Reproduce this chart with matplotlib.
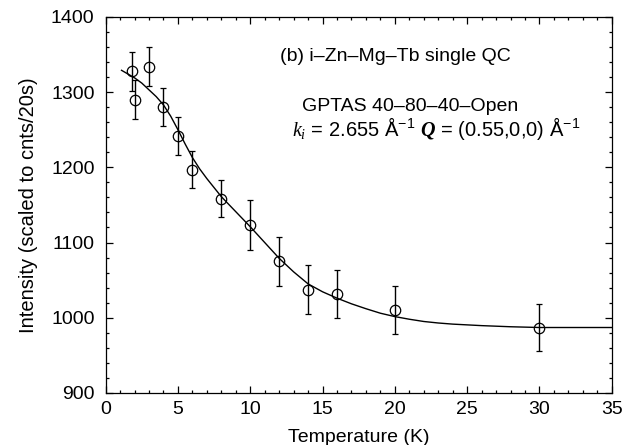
import matplotlib
matplotlib.use("Agg")
import matplotlib.pyplot as plt
from matplotlib.ticker import MultipleLocator

plt.rcParams['font.family'] = ['Liberation Sans', 'DejaVu Sans']
plt.rcParams['mathtext.fontset'] = 'custom'
plt.rcParams['mathtext.rm'] = 'Liberation Sans'
plt.rcParams['mathtext.it'] = 'Liberation Serif:italic'
plt.rcParams['mathtext.bf'] = 'Liberation Serif:bold:italic'
plt.rcParams['mathtext.default'] = 'regular'

# measured data
temperature = [1.8, 2.05, 3.0, 4.0, 5.0, 6.0, 8.0, 10.0, 12.0, 14.0, 16.0, 20.0, 30.0]
intensity = [1328, 1290, 1334, 1280, 1242, 1197, 1158, 1123, 1075, 1037, 1032, 1010, 987]
error = [26, 26, 26, 25, 25, 24.5, 24.5, 33, 33, 32.5, 32, 32, 31]

# fitted curve
fit_temperature = [1.1, 2.0, 2.5, 3.0, 3.5, 4.0, 4.5, 5.0, 5.5, 6.0, 6.5, 7.0, 8.0, 9.0,
                   10.0, 11.0, 12.0, 13.0, 14.0, 15.0, 16.0, 17.0, 18.0, 19.0, 20.0,
                   21.0, 22.0, 23.0, 24.0, 26.0, 28.0, 30.0, 35.0]
fit_intensity = [1329, 1319, 1312, 1303, 1294, 1283, 1268, 1250, 1231, 1213, 1198, 1185,
                 1161, 1141, 1121, 1100, 1079, 1061, 1045, 1034.5, 1026, 1018.5, 1012,
                 1006, 1001.5, 998, 995, 993, 991.5, 989.5, 988, 987, 987]

fig = plt.figure(figsize=(6.44, 4.45), dpi=100)
ax = fig.add_axes([0.164, 0.117, 0.786, 0.845])

ax.plot(fit_temperature, fit_intensity, color='black', lw=1.0, zorder=2)
ax.errorbar(temperature, intensity, yerr=error, fmt='o', mfc='none', mec='black',
            ms=7.5, mew=0.9, ecolor='black', elinewidth=1.0, capsize=2.5,
            capthick=1.0, zorder=3)

ax.set_xlim(0, 35)
ax.set_ylim(900, 1400)
ax.xaxis.set_major_locator(MultipleLocator(5))
ax.xaxis.set_minor_locator(MultipleLocator(1))
ax.yaxis.set_major_locator(MultipleLocator(100))
ax.yaxis.set_minor_locator(MultipleLocator(20))
ax.tick_params(which='both', direction='in', top=True, right=True, labelsize=14,
               width=0.9)
ax.tick_params(which='major', length=5)
ax.tick_params(axis='y', which='major', pad=8)
ax.tick_params(axis='x', which='major', pad=6)
ax.tick_params(which='minor', length=2.5)
for s in ax.spines.values():
    s.set_linewidth(0.9)

ax.set_xlabel('Temperature (K)', fontsize=14, labelpad=8)
ax.set_ylabel('Intensity (scaled to cnts/20s)', fontsize=14.5, labelpad=9)

ax.text(0.344, 0.896, '(b) i\u2013Zn\u2013Mg\u2013Tb single QC', transform=ax.transAxes,
        fontsize=14, va='center', ha='left')
ax.text(0.388, 0.761, 'GPTAS 40\u201380\u201340\u2013Open', transform=ax.transAxes,
        fontsize=14, va='center', ha='left')
ax.text(0.368, 0.702,
        r'$\mathit{k_i}$ = 2.655 Å$^{-1}$ $\mathbf{Q}$ = (0.55,0,0) Å$^{-1}$',
        transform=ax.transAxes, fontsize=14.5, va='center', ha='left')

fig.savefig('out.png', dpi=100)
